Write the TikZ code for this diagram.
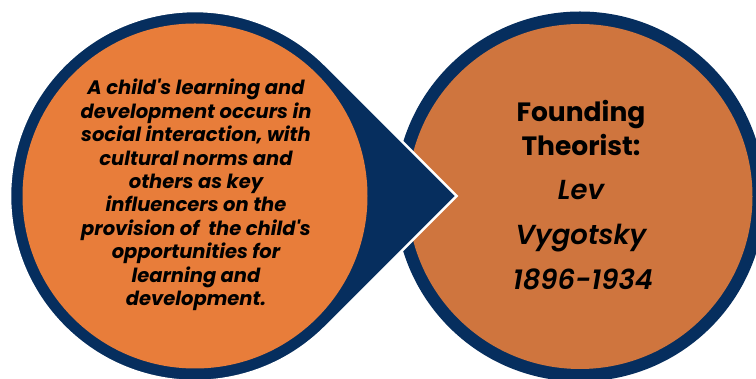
\documentclass[tikz,border=0pt]{standalone}
\usepackage{fontspec}
\setmainfont{Poppins}[Ligatures=TeXOff]
\newfontfamily\pmedit{Poppins}[UprightFont={* SemiBold Italic}, Ligatures=TeXOff]
\definecolor{navy}{RGB}{6,46,94}
\definecolor{orangeL}{RGB}{232,125,58}
\definecolor{orangeR}{RGB}{207,117,62}
\begin{document}
\begin{tikzpicture}[x=1pt,y=1pt,
  ring/.style={circle, fill=navy, minimum size=370pt, inner sep=0pt},
  disc/.style={circle, minimum size=345pt, inner sep=0pt},
  lefttext/.style={align=center, font=\fontsize{19.5}{23.4}\selectfont\bfseries\itshape, text=black},
  titletext/.style={anchor=base, font=\fontsize{26.5}{30}\selectfont\bfseries, text=black},
  nametext/.style={anchor=base, font=\fontsize{27.5}{30}\selectfont\pmedit, text=black}]
\useasboundingbox (0,0) rectangle (756,379);
\fill[white] (0,0) rectangle (756,379);
% right circle
\node[ring] (rout) at (580,182.5) {};
\node[disc, fill=orangeR] (rin) at (580,182.5) {};
% left teardrop (circle with tangent pointer)
\coordinate (lc) at (195,183);
\coordinate (tip) at (456.6,183);
\fill[navy, draw=white, line width=2.6pt] (tip) -- (325.8,313.8) arc[start angle=45, end angle=315, radius=185] -- cycle;
\node[disc, fill=orangeL] (lin) at (lc) {};
\node[lefttext] (ltext) at (196,184) {A child's learning and\\development occurs in\\social interaction, with\\cultural norms and\\others as key\\influencers on the\\provision of\ \ the child's\\opportunities for\\learning and\\development.};
% right text
\node[titletext] (t1) at (581,257) {Founding};
\node[titletext] (t2) at (581,223) {Theorist:};
\node[nametext] (n1) at (581,179) {Lev};
\node[nametext] (n2) at (581,134) {Vygotsky};
\node[nametext] (n3) at (583,89) {1896-1934};
\end{tikzpicture}
\end{document}
